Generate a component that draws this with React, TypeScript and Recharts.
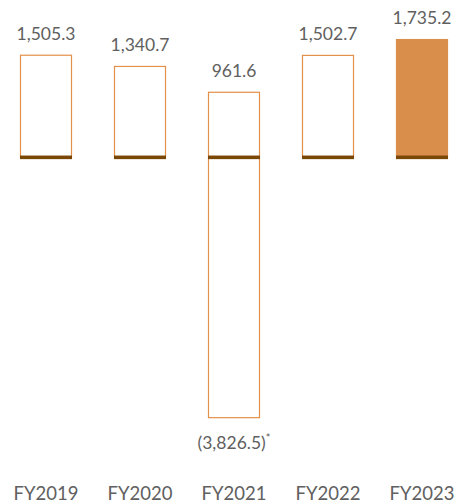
import React from "react"
import { BarChart, Bar, XAxis, YAxis, LabelList } from "recharts"

// FY2021 runs from a negative low up to a positive high, so every bar is a [low, high] range
const categories = ["FY2019", "FY2020", "FY2021", "FY2022", "FY2023"]
const lows = [0, 0, -3826.5, 0, 0]
const highs = [1505.3, 1340.7, 961.6, 1502.7, 1735.2]
const topLabels = ["1,505.3", "1,340.7", "961.6", "1,502.7", "1,735.2"]
const bottomLabels = ["", "", "(3,826.5)", "", ""]
const bottomNotes = ["", "", "*", "", ""]
const highlighted = "FY2023"

const data = categories.map((cat, i) => ({ cat, range: [lows[i], highs[i]] }))

const OUTLINE = "#E3904A"
const FILL = "#DA8E4B"
const DARK = "#7A4707"
const TEXT = "#606060"
const FONT = "Lato, 'Open Sans', sans-serif"

const BarShape = (props: any) => {
  const { x, width, payload } = props
  const y = Math.min(props.y, props.y + props.height)
  const height = Math.abs(props.height)
  const [lo, hi] = payload.range
  const zeroY = y + (height * hi) / (hi - lo)
  const filled = payload.cat === highlighted
  return (
    <g>
      <rect
        x={x + 0.5}
        y={y + 0.5}
        width={width - 1}
        height={height - 1}
        fill={filled ? FILL : "#ffffff"}
        stroke={filled ? FILL : OUTLINE}
        strokeWidth={1.2}
      />
      <rect x={x} y={zeroY - 1.8} width={width} height={3.6} fill={DARK} />
    </g>
  )
}

const ValueLabels = (props: any) => {
  const { x, width, index } = props
  const y = Math.min(props.y, props.y + props.height)
  const height = Math.abs(props.height)
  const cx = x + width / 2
  return (
    <g fontFamily={FONT} fontSize={17.5} fill={TEXT}>
      <text x={cx} y={y - 15} textAnchor="middle">
        {topLabels[index]}
      </text>
      {bottomLabels[index] && (
        <text x={cx} y={y + height + 31} textAnchor="middle">
          {bottomLabels[index]}
          <tspan fontSize={11} dy={-7}>
            {bottomNotes[index]}
          </tspan>
        </text>
      )}
    </g>
  )
}

const CategoryTick = (props: any) => {
  const { x, y, payload } = props
  return (
    <text
      x={x}
      y={y + 70}
      textAnchor="middle"
      fontFamily={FONT}
      fontSize={18.5}
      fill={TEXT}
    >
      {payload.value}
    </text>
  )
}

export default function App() {
  return (
    <div
      style={{
        position: "absolute",
        left: 0,
        top: 0,
        width: 455,
        height: 504,
        overflow: "hidden",
        background: "#ffffff",
      }}
    >
      <div style={{ marginLeft: -1 }}>
        <BarChart
          width={470}
          height={504}
          data={data}
          margin={{ top: 21, right: 0, bottom: 0, left: 0 }}
        >
          <XAxis
            dataKey="cat"
            axisLine={false}
            tickLine={false}
            tickSize={0}
            tickMargin={0}
            height={74}
            interval={0}
            tick={<CategoryTick />}
          />
          <YAxis hide domain={[-4000, 2000]} />
          <Bar dataKey="range" barSize={52} shape={<BarShape />} isAnimationActive={false}>
            <LabelList dataKey="range" content={<ValueLabels />} />
          </Bar>
        </BarChart>
      </div>
    </div>
  )
}
